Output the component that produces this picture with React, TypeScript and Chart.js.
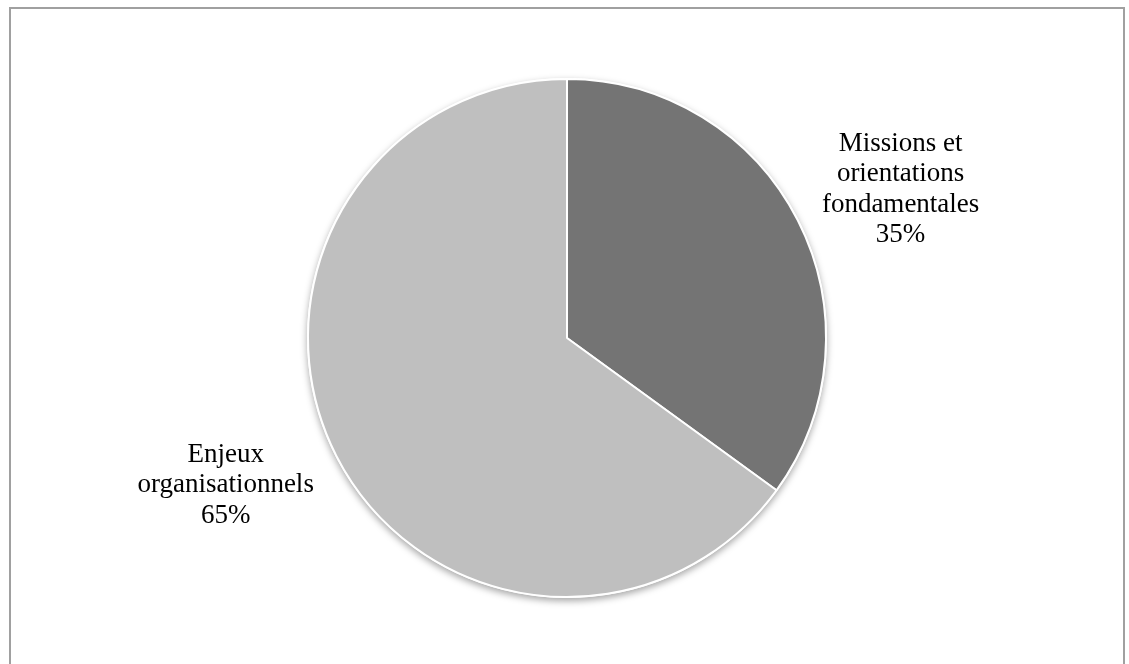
import React, { useEffect, useRef } from "react";
import { Chart, registerables } from "chart.js";

Chart.register(...registerables);

const categories: string[][] = [
  ["Missions et", "orientations", "fondamentales"],
  ["Enjeux", "organisationnels"],
];
const shares: number[] = [35, 65];
const sliceColors: string[] = ["#747474", "#bfbfbf"];
// label placement: angle (deg, from +x axis, clockwise-positive canvas) and distance as fraction of radius
const labelAngles: number[] = [-24, 156.7];
const labelDistances: number[] = [1.41, 1.435];

const W = 1129;
const H = 664;

const shadowPlugin = {
  id: "pieShadow",
  beforeDatasetsDraw(chart: any) {
    const arc = chart.getDatasetMeta(0).data[0];
    if (!arc) return;
    const { x, y, outerRadius } = arc.getProps(["x", "y", "outerRadius"], true);
    const ctx = chart.ctx;
    ctx.save();
    ctx.shadowColor = "rgba(0,0,0,0.35)";
    ctx.shadowBlur = 7;
    ctx.shadowOffsetX = 0;
    ctx.shadowOffsetY = 3;
    ctx.beginPath();
    ctx.arc(x, y, outerRadius + 1, 0, Math.PI * 2);
    ctx.fillStyle = "#ffffff";
    ctx.fill();
    ctx.restore();
  },
};

const labelPlugin = {
  id: "pieLabels",
  afterDatasetsDraw(chart: any) {
    const meta = chart.getDatasetMeta(0);
    const ctx = chart.ctx;
    const total = shares.reduce((a, b) => a + b, 0);
    meta.data.forEach((arc: any, i: number) => {
      const { x, y, outerRadius } = arc.getProps(["x", "y", "outerRadius"], true);
      const a = (labelAngles[i] * Math.PI) / 180;
      const d = outerRadius * labelDistances[i];
      const cx = x + Math.cos(a) * d;
      const cy = y + Math.sin(a) * d;
      const pct = Math.round((shares[i] / total) * 100) + "%";
      const lines = [...categories[i], pct];
      const lh = 30.5;
      ctx.save();
      ctx.font = '27px "Liberation Serif", "Times New Roman", serif';
      ctx.fillStyle = "#000000";
      ctx.textAlign = "center";
      ctx.textBaseline = "middle";
      const start = cy - ((lines.length - 1) * lh) / 2;
      lines.forEach((t, k) => ctx.fillText(t, cx, start + k * lh));
      ctx.restore();
    });
  },
};

export default function App() {
  const ref = useRef<HTMLCanvasElement | null>(null);
  useEffect(() => {
    if (!ref.current) return;
    const chart = new Chart(ref.current, {
      type: "pie",
      data: {
        labels: categories.map((c) => c.join(" ")),
        datasets: [
          {
            data: shares,
            backgroundColor: sliceColors,
            borderColor: "#ffffff",
            borderWidth: 2,
          },
        ],
      },
      options: {
        responsive: false,
        animation: false,
        radius: 259,
        layout: { padding: { left: 308, right: 303, top: 78, bottom: 66 } },
        plugins: {
          legend: { display: false },
          tooltip: { enabled: false },
        },
      },
      plugins: [shadowPlugin, labelPlugin],
    });
    return () => chart.destroy();
  }, []);

  return (
    <div
      style={{
        position: "fixed",
        left: 0,
        top: 0,
        width: W,
        height: H,
        background: "#ffffff",
        overflow: "hidden",
      }}
    >
      <canvas ref={ref} width={W} height={H} style={{ position: "absolute", left: 0, top: 0 }} />
      <div
        style={{
          position: "absolute",
          left: 9,
          top: 7,
          width: 1112,
          height: 720,
          border: "2px solid #a0a0a0",
          pointerEvents: "none",
        }}
      />
    </div>
  );
}
